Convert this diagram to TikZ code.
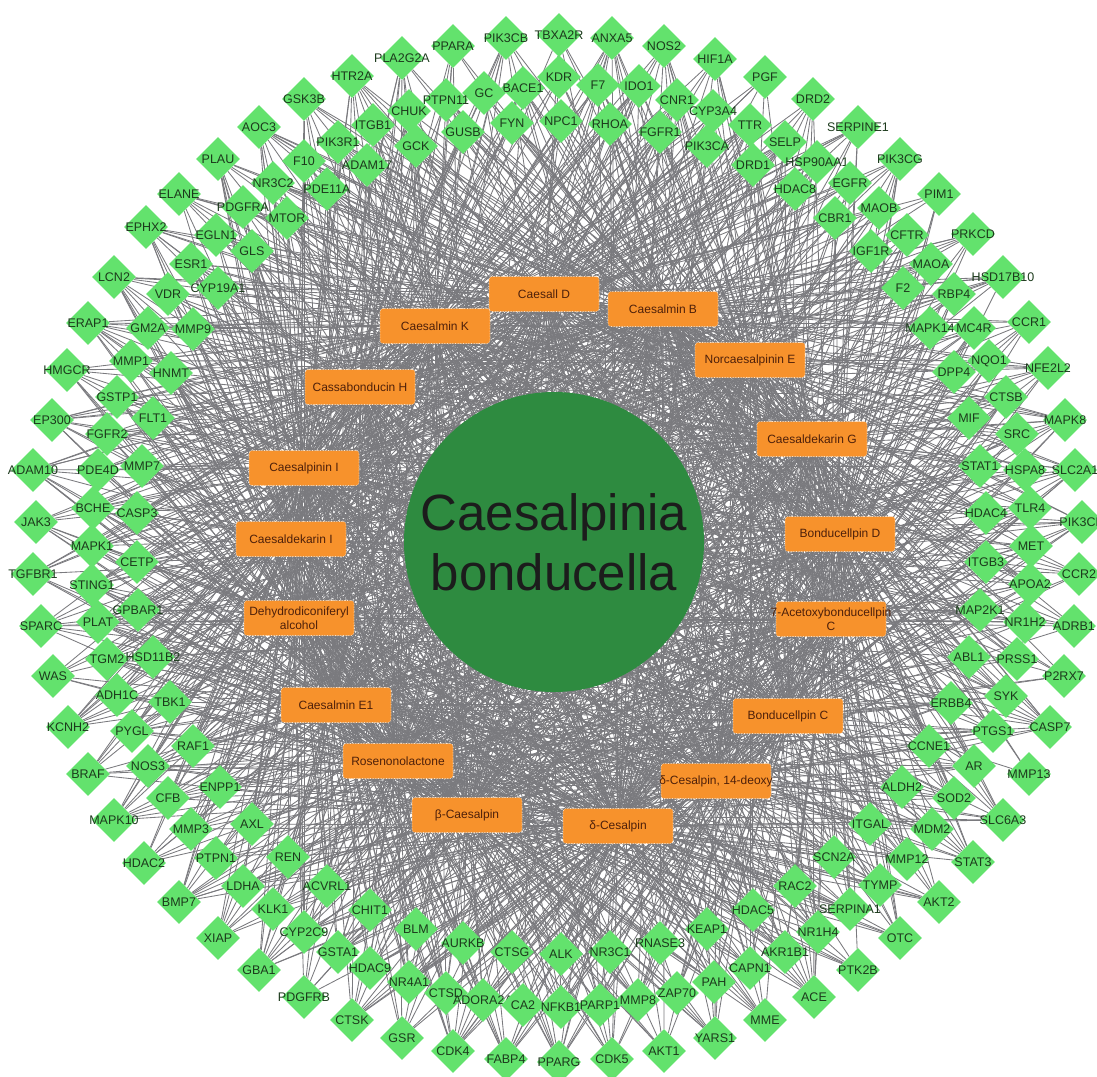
\documentclass[tikz,border=0pt]{standalone}
\usepackage{fontspec}
\setmainfont{Liberation Sans}
\usetikzlibrary{shapes.geometric}
\pgfdeclarelayer{background}
\pgfsetlayers{background,main}

\definecolor{genegreen}{RGB}{99,226,109}
\definecolor{genetext}{RGB}{28,58,28}
\definecolor{cpdorange}{RGB}{247,146,44}
\definecolor{cpdtext}{RGB}{78,32,10}
\definecolor{herbgreen}{RGB}{46,139,64}
\definecolor{linkgray}{RGB}{122,122,126}

% targets: name/x/y (pixels from top left)
\def\genes{HTR2A/352/76, GSK3B/304/99, AOC3/259/127, ITGB1/373/125, PIK3R1/338/142,
    PLAU/218/159, F10/304/161, ADAM17/367/165, NR3C2/273/183, PDE11A/327/189,
    ELANE/179/194, PDGFRA/243/207, MTOR/287/218, EPHX2/146/227, EGLN1/216/235,
    GLS/252/251, ESR1/191/264, LCN2/114/277, CYP19A1/218/288, VDR/168/294,
    ERAP1/88/323, GM2A/148/328, MMP9/193/329, MMP1/131/361, HMGCR/67/370, HNMT/171/373,
    PLA2G2A/402/58, PPARA/453/46, PIK3CB/506/38, TBXA2R/559/35, ANXA5/612/38,
    NOS2/664/46, HIF1A/715/59, KDR/559/77, F7/598/85, IDO1/639/86, BACE1/523/88,
    GC/484/93, PTPN11/446/100, CHUK/409/111, CNR1/677/100, CYP3A4/713/111,
    FYN/512/123, NPC1/561/121, RHOA/610/124, FGFR1/660/132, GUSB/463/132,
    GCK/416/146, PIK3CA/707/146,
    PGF/765/77, DRD2/813/99, TTR/750/125, SERPINE1/858/127, SELP/785/142,
    PIK3CG/900/159, DRD1/753/165, HSP90AA1/817/162, HDAC8/795/189, EGFR/850/183,
    PIM1/939/194, MAOB/879/208, CBR1/835/218, CFTR/907/235, PRKCD/973/234,
    IGF1R/871/251, MAOA/931/264, HSD17B10/1003/277, F2/903/288, RBP4/954/294,
    CCR1/1029/322, MAPK14/930/328, MC4R/974/328, NQO1/989/361, NFE2L2/1048/368,
    DPP4/954/372, CTSB/1006/397, MIF/969/418, MAPK8/1065/420, SRC/1017/434,
    STAT1/980/466, HSPA8/1025/470, SLC2A1/1075/470, HDAC4/986/513, TLR4/1030/508,
    PIK3CD/1082/522, MET/1031/546, ITGB3/986/562, CCR2/1079/574, APOA2/1030/584,
    MAP2K1/980/610, NR1H2/1025/622, ADRB1/1074/626, ABL1/969/657, PRSS1/1017/659,
    P2RX7/1064/676, SYK/1006/696, ERBB4/951/703,
    GSTP1/117/397, EP300/52/420, FLT1/153/418, FGFR2/107/434, ADAM10/33/470,
    PDE4D/98/470, MMP7/142/466, BCHE/93/508, CASP3/137/513, JAK3/36/522,
    MAPK1/92/546, CETP/137/562, TGFBR1/33/574, STING1/92/585, GPBAR1/138/610,
    SPARC/41/626, PLAT/98/622, TGM2/107/659, HSD11B2/153/657, WAS/53/676,
    ADH1C/117/695, TBK1/170/702,
    KCNH2/68/727, PYGL/132/731, RAF1/193/746, BRAF/88/774, NOS3/148/766,
    ENPP1/220/787, CFB/168/798, MAPK10/114/820, MMP3/191/829, AXL/252/824,
    HDAC2/144/863, PTPN1/216/858, REN/288/857, LDHA/243/886, ACVRL1/327/886,
    BMP7/179/902, KLK1/273/909, CHIT1/370/910, XIAP/218/938, CYP2C9/304/932,
    GSTA1/338/952, GBA1/259/970, HDAC9/370/968, PDGFRB/304/997, CTSK/352/1020,
    BLM/416/929, AURKB/463/943, CTSG/512/952, ALK/561/954, NR3C1/610/952,
    RNASE3/660/943, KEAP1/707/929, NR4A1/409/982, CTSD/446/993, ADORA2A/483/1000,
    CA2/523/1005, NFKB1/561/1007, PARP1/600/1005, MMP8/638/1000, ZAP70/677/993,
    PAH/714/982, GSR/402/1038, CDK4/453/1051, FABP4/506/1059, PPARG/559/1062,
    CDK5/612/1059, AKT1/664/1051, YARS1/715/1038,
    CASP7/1050/727, PTGS1/993/731, CCNE1/929/746, AR/974/766, MMP13/1029/774,
    ALDH2/902/787, SOD2/954/798, SLC6A3/1003/820, ITGAL/870/824, MDM2/932/829,
    SCN2A/834/857, MMP12/907/859, STAT3/973/862, RAC2/795/886, TYMP/880/885,
    AKT2/939/902, HDAC5/753/910, SERPINA1/850/909, NR1H4/818/932, OTC/900/938,
    AKR1B1/785/952, CAPN1/750/968, PTK2B/858/970, ACE/814/997, MME/765/1020}

% compounds: number/x/y/text
\def\compounds{1/544/294/Caesall D, 2/663/309/Caesalmin B, 3/750/360/Norcaesalpinin E,
    4/812/439/Caesaldekarin G, 5/840/534/Bonducellpin D,
    6/831/619/7-Acetoxybonducellpin\\C, 7/788/716/Bonducellpin C,
    8/716/781/{δ-Cesalpin, 14-deoxy}, 9/618/826/δ-Cesalpin, 10/467/815/β-Caesalpin,
    11/398/761/Rosenonolactone, 12/336/705/Caesalmin E1,
    13/299/618/Dehydrodiconiferyl\\alcohol, 14/291/539/Caesaldekarin I,
    15/304/468/Caesalpinin I, 16/360/387/Cassabonducin H, 17/435/326/Caesalmin K}

\begin{document}
\begin{tikzpicture}[x=1pt, y=-1pt,
        gene/.style={diamond, fill=genegreen, inner sep=0pt, minimum width=44pt, minimum height=44pt},
        genelabel/.style={text=genetext, font=\fontsize{12.5}{13}\selectfont, inner sep=0pt},
        cpd/.style={rectangle, rounded corners=3pt, fill=cpdorange, draw=white!75!cpdorange,
            densely dotted, line width=0.6pt, minimum width=110pt, minimum height=35pt},
        cpdlabel/.style={text=cpdtext, font=\fontsize{12}{14}\selectfont, align=center, inner sep=0pt, solid},
        herb/.style={circle, fill=herbgreen, minimum size=300pt, inner sep=0pt, align=center,
            text={rgb,255:red,28;green,28;blue,28}, font=\fontsize{51}{60}\selectfont},
        link/.style={draw=linkgray, line width=0.85pt}]
    \useasboundingbox (0,0) rectangle (1097,1076);

    \node[herb] (herb) at (554,542) {Caesalpinia\\bonducella};

    \foreach \i/\x/\y/\t in \compounds{
            \node[cpd, label={[cpdlabel]center:\t}] (c\i) at (\x,\y) {};
        }

    \foreach \n/\x/\y in \genes{
            \node[gene, label={[genelabel]center:\n}] (\n) at (\x,\y) {};
        }

    % compound-target links, fixed seed
    \pgfmathsetseed{2024}
    \begin{pgfonlayer}{background}
        \foreach \n/\x/\y in \genes{
                \foreach \i in {1,...,17}{
                        \pgfmathrandominteger{\r}{1}{100}
                        \ifnum\r<58 \draw[link] (c\i)--(\n); \fi
                    }
            }
    \end{pgfonlayer}
\end{tikzpicture}
\end{document}
